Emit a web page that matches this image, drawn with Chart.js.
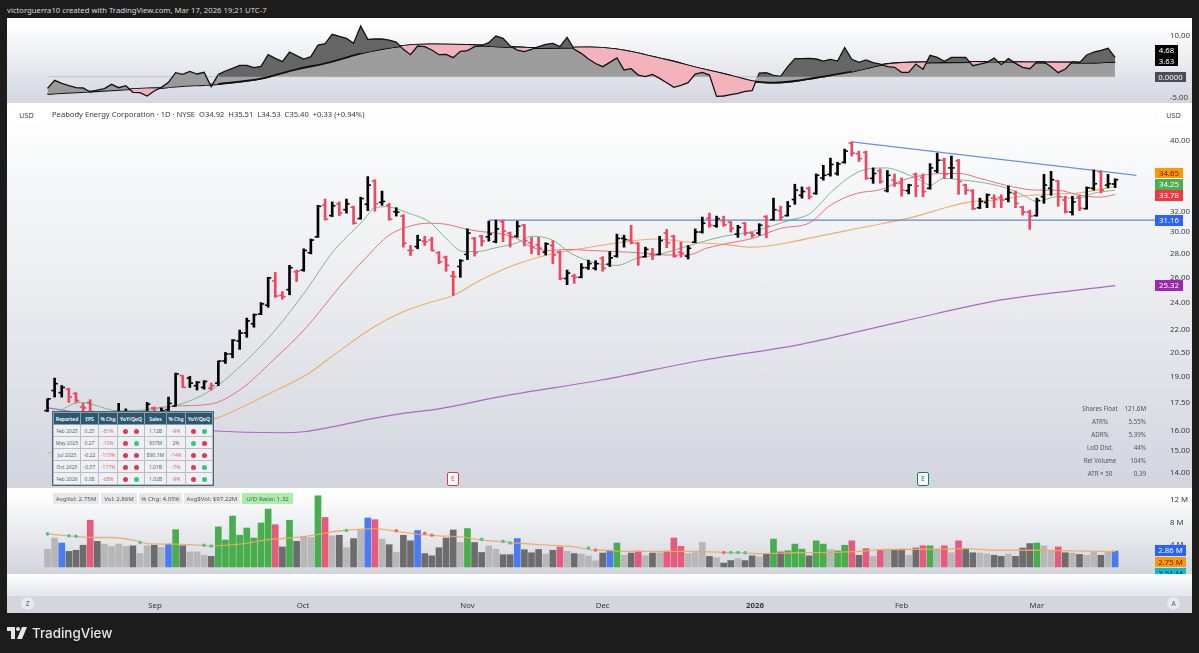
<!DOCTYPE html>
<html>
<head>
<meta charset="utf-8">
<title>BTU</title>
<script src="https://cdn.jsdelivr.net/npm/chart.js@4/dist/chart.umd.min.js"></script>
<style>
html, body { margin: 0; padding: 0; width: 1199px; height: 653px; overflow: hidden; background: #1c1c1c; }
body { position: relative; font-family: "Noto Sans", sans-serif; color: #333; }
.abs, canvas { position: absolute; }
.pane { position: absolute; left: 7px; width: 1185px; }
#byline { left: 7px; top: 5px; font-size: 7.7px; color: #d8d8d8; white-space: nowrap; }
#logoText { left: 32px; top: 625px; font: 500 13.4px Inter, sans-serif; color: #e6e6e6; }
.tag { position: absolute; left: 1155px; width: 28px; height: 10.5px; line-height: 10.5px; font-size: 7.8px; text-align: center; color: #fff; overflow: hidden; }
.box { position: absolute; background: #fff; border-radius: 2px; font-size: 7.2px; text-align: center; line-height: 16px; height: 16px; color: #444; }
#title { left: 52px; top: 109px; font-size: 7.6px; white-space: pre; color: #3c3c3c; }
.chip { position: absolute; top: 493px; height: 11px; line-height: 11px; font-size: 6.1px; text-align: center; background: #e8e8e8; color: #555; white-space: nowrap; }
.stat { position: absolute; font-size: 6.2px; color: #555; line-height: 9px; white-space: nowrap; }
.round { position: absolute; top: 597px; width: 13px; height: 13px; line-height: 13px; border-radius: 50%; background: #e9eaee; font-size: 6.5px; text-align: center; color: #555; }
.earn { position: absolute; top: 472px; width: 10px; height: 12px; line-height: 12px; background: #fff; border-radius: 2px; font-size: 7px; text-align: center; }
#earnings { position: absolute; left: 53px; top: 412px; width: 159px; height: 69px; border-collapse: collapse; table-layout: fixed; font-size: 5px; text-align: center; background: #eef0f3; color: #666; outline: 1.5px solid #4a6478; }
#earnings th { background: #2d566f; color: #fff; padding: 0; font-weight: 600; border: 0.5px solid #8aa0ae; height: 11px; }
#earnings td { padding: 0; border: 0.5px solid #b9bec5; height: 11px; }
#earnings td.neg { color: #d0706f; }
.dot { display: inline-block; width: 5px; height: 5px; border-radius: 50%; margin: 0 3px; vertical-align: middle; }
</style>
</head>
<body>
<div class="abs" id="byline">victorguerra10 created with TradingView.com, Mar 17, 2026 19:21 UTC-7</div>

<div class="pane" style="top:18px;height:85px;background:linear-gradient(#fff 8%,#d3d6df 100%)"></div>
<div class="pane" style="top:103px;height:385px;background:linear-gradient(#fff 0%,#eceef1 45%,#d2d5de 100%)"></div>
<div class="pane" style="top:488px;height:86px;background:linear-gradient(#fff 5%,#d2d5de 100%)"></div>
<div class="pane" style="top:574px;height:22px;background:linear-gradient(#fff,#e4e6eb)"></div>
<div class="pane" style="top:596px;height:17px;background:#d3d6de"></div>

<canvas id="indicatorChart" width="1184" height="85" style="left:8px;top:19px"></canvas>
<canvas id="priceChart" width="1184" height="384" style="left:8px;top:104px"></canvas>
<canvas id="volumeChart" width="1184" height="126" style="left:8px;top:488px"></canvas>

<div class="box" style="left:9px;top:107px;width:35px">USD</div>
<div class="box" style="left:1158px;top:107px;width:31px">USD</div>
<div class="abs" id="title">Peabody Energy Corporation · 1D · NYSE  O34.92  H35.51  L34.53  C35.40  +0.33 (+0.94%)</div>

<div id="tags"></div>
<div id="chips"></div>
<div id="stats"></div>

<div class="earn" style="left:447px;color:#d8394e;border:1px solid #d8394e">E</div>
<div class="earn" style="left:917px;color:#14805e;border:1px solid #14805e">E</div>

<div class="round" style="left:21px">Z</div>
<div class="round" style="left:1167px">A</div>

<table id="earnings"></table>

<svg class="abs" style="left:7px;top:627px" width="20" height="12" viewBox="0 0 20 12">
  <path d="M0 0H8V12H4V4H0Z M15 0H20L15 12H10Z" fill="#e6e6e6"/>
  <circle cx="11" cy="2" r="2" fill="#e6e6e6"/>
</svg>
<div class="abs" id="logoText">TradingView</div>

<script>
// --- price bars, oldest first ---
const opens = [
  17.05,18.17,18.05,18.25,18.0,17.25,17.5,16.6,16.5,16.4,
  16.6,16.7,17.0,16.75,16.7,17.2,16.85,17.1,17.3,19.05,
  18.9,18.45,18.35,18.3,18.6,19.95,20.4,21.25,21.8,22.45,
  23.15,23.8,25.7,24.55,25.0,26.45,26.6,28.1,29.55,32.65,
  31.6,32.8,32.2,32.45,31.3,32.75,35.25,32.95,32.65,32.0,
  31.55,28.3,28.65,29.15,29.25,28.1,27.7,26.1,26.9,27.95,
  29.4,29.6,29.55,29.1,31.0,29.9,29.6,30.65,29.0,28.8,
  28.15,28.75,28.15,25.9,26.1,26.0,26.8,26.75,27.6,27.1,
  27.8,29.4,29.25,28.95,27.75,28.0,27.95,29.9,29.6,28.15,
  27.8,29.05,30.0,31.35,30.6,31.1,30.95,29.8,30.85,29.9,
  29.9,31.5,31.2,32.1,31.6,33.25,33.7,34.45,33.9,35.6,
  36.0,36.1,37.4,39.75,38.45,38.6,35.55,36.4,34.2,35.35,
  35.0,34.2,36.0,35.65,34.45,36.4,37.65,36.75,37.6,34.8,
  34.2,32.4,32.95,33.4,33.45,33.3,33.9,32.45,31.95,31.6,
  33.55,34.45,35.25,33.2,31.95,33.5,32.3,34.45,36.3,34.8,
  34.92];
const highs = [
  17.7,18.9,18.46,18.3,18.05,17.45,17.65,16.8,16.7,16.6,
  17.45,17.15,17.05,16.95,17.5,17.25,17.2,17.8,19.2,19.05,
  19.0,18.7,18.75,18.6,19.95,20.5,21.35,22.0,22.85,23.15,
  24.0,26.0,26.4,24.85,27.0,26.6,28.45,29.35,32.65,33.3,
  33.0,33.0,33.3,32.55,33.5,35.75,35.4,34.15,32.85,32.4,
  31.7,28.75,29.7,29.6,29.5,28.2,27.8,26.5,27.5,30.3,
  29.5,29.7,31.05,31.15,31.15,30.0,31.05,30.75,29.5,29.5,
  29.0,29.2,28.25,26.6,26.25,27.15,27.45,27.4,27.75,28.2,
  29.8,29.7,30.65,29.0,28.6,28.5,29.6,30.25,29.7,29.05,
  28.75,30.3,31.45,31.85,31.55,31.55,31.0,30.65,30.9,30.0,
  30.8,31.6,33.4,32.55,33.05,34.9,34.6,34.6,36.05,37.05,
  37.9,37.4,39.0,39.9,38.75,38.75,36.75,36.65,36.45,36.05,
  35.6,34.9,36.15,36.05,37.25,38.5,37.9,38.15,37.75,34.9,
  34.3,33.4,33.85,33.75,33.75,34.7,34.15,32.55,32.15,33.4,
  36.0,36.35,35.3,33.6,33.6,33.7,34.6,36.5,36.4,36.0,
  35.51];
const lows = [
  17.0,17.8,17.8,17.5,17.5,16.9,16.8,16.3,16.3,16.2,
  16.5,16.6,16.6,16.6,16.6,16.6,16.7,17.05,17.3,18.35,
  18.35,18.2,18.25,18.2,18.45,19.8,20.15,20.7,21.5,22.2,
  23.1,23.65,24.4,24.25,24.6,25.65,26.5,28.0,29.5,31.15,
  31.5,31.6,31.85,30.75,31.25,32.1,32.05,32.65,31.15,31.55,
  28.6,27.85,28.45,28.75,28.25,27.15,26.5,24.55,26.0,27.5,
  27.8,28.7,29.15,29.0,29.1,28.6,29.5,28.7,28.0,27.9,
  27.9,27.15,25.8,25.4,25.5,25.95,26.65,26.6,26.5,26.9,
  27.7,28.6,28.9,27.0,27.7,27.5,27.9,28.55,27.7,27.7,
  27.55,29.0,29.9,30.45,30.45,30.55,30.0,29.5,29.7,29.5,
  29.7,29.45,31.15,31.15,31.55,32.75,33.4,33.3,33.8,35.35,
  35.8,35.9,37.3,38.15,37.5,35.45,35.0,35.0,34.05,34.65,
  33.6,33.85,33.55,33.55,34.35,36.2,35.55,35.55,33.8,33.8,
  32.2,32.3,32.4,32.4,32.4,33.0,32.4,31.65,30.25,31.55,
  32.85,33.7,32.55,31.85,31.65,32.1,32.25,34.25,33.95,34.5,
  34.53];
const closes = [
  17.7,18.57,18.35,17.8,17.6,17.2,17.0,16.5,16.4,16.5,
  16.9,16.95,16.85,16.9,17.4,16.9,17.05,17.45,19.15,18.35,
  18.6,18.65,18.7,18.45,19.95,20.4,21.3,21.8,22.65,23.1,
  23.9,25.95,24.5,24.45,26.8,26.5,28.3,29.25,32.55,31.25,
  32.6,31.85,32.8,30.85,33.35,34.8,32.8,33.05,31.25,31.95,
  28.95,28.3,29.25,29.1,28.3,27.3,27.0,26.05,27.4,29.9,
  28.1,29.15,29.8,30.3,30.1,29.5,30.55,29.2,28.6,28.5,
  28.9,27.9,25.9,26.35,26.0,26.8,27.15,27.15,26.75,27.65,
  29.4,29.3,29.0,27.7,28.4,27.95,29.2,29.0,27.8,28.05,
  28.5,30.0,30.85,30.65,31.3,30.7,30.35,30.45,29.9,29.7,
  30.65,30.55,32.2,31.45,32.55,34.25,34.1,33.55,35.9,35.9,
  37.15,37.2,38.75,38.5,37.85,35.55,36.1,35.2,35.9,35.0,
  34.25,34.8,34.7,34.1,36.75,37.65,36.0,36.75,35.2,34.25,
  32.3,33.05,33.75,33.3,33.2,34.0,32.85,31.95,31.55,33.15,
  34.8,35.4,33.55,32.0,33.0,32.35,34.5,34.95,34.25,34.95,
  35.40];
// U / D per bar as the chart coloured it
const barDirs = ('UUUDDDDDDU' + 'UUDUUDUUUD' + 'UUUDUUUUUU' + 'UUDDUDUUUD' + 'UDUDUUDUDU' +
  'DDUDDDDDUU' + 'DDUUDDUDDD' + 'UDDUDUUUDU' + 'UUDDUDUDDD' + 'UUUDUDDUDD' +
  'UDUDUUUDUU' + 'UUUDDDUDUD' + 'DUDDUUDUDD' + 'DUUDDUDDDU' + 'UUDDUDUUDU' + 'U').split('');

// moving averages, read at the bars listed next to them
const greenBars = [1,4.6,10,17.7,23,28,32,36.4,40,44.4,46,47.7,50.5,53.7,56,58.4,60.3,63,66,68,71.1,73.4,77,80,83,85.6,90.2,95,98.7,104.3,107.1,110.4,113.7,115.6,117.9,120.2,122.6,124,125.9,128.7,132,135.2,137.1,139,141.8,144.6,146.9,150];
const greenVals = [16.9,17.5,17.05,17.3,18.2,20,22,25,28.1,31.15,32.4,32.5,31.9,30.95,29.4,28.2,28.2,28.55,29,29.6,29.2,28.1,27.2,27,27.65,27.9,28.75,29.6,30,31.15,31.8,34.25,36.2,36.65,36.75,36.2,35.35,34.8,35.55,35.35,35,34.35,33.7,33.05,33.55,33.35,33.9,34.25];
const redBars = [5,13,17.7,22.8,27,31.7,36.4,41,44.8,48,51.4,53.7,56,58.4,60.8,63,65.6,68,70.3,73.4,76.2,80,83,86.6,90,92.6,96,99,103,107.1,110,113.7,117,120.2,123,125.9,128.2,131,135.7,139,141.8,145,147.9,150];
const redVals = [16.55,17.05,17.3,17.4,18.2,20,22.2,25.2,27.7,29.7,30.65,30.85,30.75,30.35,30.05,29.9,29.5,28.6,28.3,28.4,28.3,28.2,28.1,27.9,27.9,28.5,29,29.4,30.35,30.9,32.65,33.9,34.3,35.35,35.9,36.1,36.1,35.55,34.6,34.25,34.25,33.7,33.5,33.78];
const orangeBars = [0,10,23.3,31.7,36.4,41,45.8,49.5,53.7,57,60.8,65.5,70.2,73.4,77.2,81.8,85.5,90.2,95,99,104,107.6,114.6,121.6,126.4,129.6,133.5,136.8,140.6,145.3,150];
const orangeVals = [14.9,15.7,16.6,18.1,19.1,20.6,22.2,23.2,24,24.55,25.75,27,27.9,28.3,28.7,29.15,29.35,29.05,28.85,28.6,29,29.5,30.45,31.45,32.45,33,33.2,33.6,33.8,34,34.65];
const purpleBars = [0,5,12,23,33,36,40,46,50,55,64,78,92,106,120,134,150];
const purpleVals = [17.2,16.9,16.4,16,15.9,15.95,16.2,16.65,16.9,17.15,17.85,18.8,20,21.05,22.6,24.2,25.32];

// drawn lines: support and falling trendline
const supportBars = [62, 155.6];
const supportVals = [31.16, 31.16];
const trendBars = [113, 153];
const trendVals = [39.9, 35.9];

const priceTicks = [14, 15, 16, 17.5, 19, 20.5, 22, 24, 26, 28, 30, 32, 40];

// volume in millions and its colour class per bar
const volumes = [
  3.2,5.2,4.3,2.8,3.0,3.9,8.4,4.6,4.1,3.7,
  4.1,3.7,3.8,2.4,3.8,3.9,3.5,4.1,6.7,3.8,
  2.7,2.7,2.1,1.9,7.2,4.85,9.15,5.7,7.0,5.2,
  7.9,10.4,7.6,3.6,8.4,4.6,5.5,5.3,12.8,8.9,
  5.6,5.7,3.45,5.1,6.7,8.8,8.5,5.0,4.0,2.6,
  5.7,4.7,6.55,2.4,2.0,3.45,5.2,6.65,4.4,6.9,
  4.4,2.6,3.8,3.2,2.2,2.2,5.1,3.1,2.55,3.15,
  2.3,3.0,3.6,2.8,2.4,2.3,1.95,1.1,2.5,2.9,
  4.3,2.1,2.5,2.85,2.0,2.5,2.55,2.85,5.2,3.7,
  2.4,2.6,4.4,1.9,1.65,0.7,1.15,1.5,1.15,2.0,
  1.8,2.35,5.0,2.7,2.9,4.1,3.2,2.0,4.7,4.1,
  3.1,2.9,3.9,4.7,2.1,3.3,1.9,3.0,3.2,3.1,
  3.2,2.1,3.4,3.8,3.8,3.2,3.8,2.55,4.7,3.3,
  2.55,2.5,2.35,2.1,1.9,2.3,1.9,3.4,4.2,4.3,
  3.8,2.9,3.6,2.55,2.5,2.25,2.1,2.65,2.1,2.7,
  2.86];
const volumeKinds = ('llbdddpdll' + 'lldlldlbgd' + 'llldgggggg' + 'ggpdgdllgp' + 'ldldlbpldl' +
  'ddbdddddlg' + 'ddllddbddd' + 'ldpldllldb' + 'gldpldlppp' + 'llldlddldd' +
  'ldgdgggdgg' + 'lggpdplpld' + 'dldpglplpd' + 'dllddldddg' + 'llpdldlldl' + 'b').split('');
const avgVolBars = [0,3,6,9,12.5,14,18,23,27,31,36,39,42,46,49,52,55,58,61,65,69,74,77,78.6,81,86,91,95.6,100,105,110,115,117,125,129,133,139,144,150];
const avgVolVals = [5.94,5.6,5.3,5.3,4.7,4.2,4.1,3.8,4.1,4.9,5.45,6.1,6.6,6.9,6.4,5.9,5.6,5.4,4.85,4.4,4,3.6,3.0,3.0,2.8,2.8,2.8,2.6,2.4,2.55,2.6,2.9,3.1,3.2,3.3,3,3,2.9,2.75];
const tealDotBars = [0,3,4,13,22,23,42,61,64,65,76,96,97,98];
const tealDotVals = [5.94,5.6,5.5,4.4,3.9,3.75,6.55,4.95,4.6,4.3,3.4,2.6,2.6,2.55];
const redDotBars = [49,53,54,77,95];
const redDotVals = [6.5,6.05,5.7,3.03,2.6];
const volumeTicks = [4, 8, 12];

// oscillator pane
const fastVals = [
  -2.83,-0.89,-1.62,-2.18,-2.67,-2.75,-3.72,-3.24,-2.91,-1.86,
  -2.67,-2.18,-3.8,-3.88,-4.69,-3.48,-2.59,-1.38,0.97,0.57,
  1.29,0.65,1.05,-2.43,0.57,1.38,2.02,2.75,2.75,2.18,
  2.51,5.34,4.45,3.64,5.99,5.1,4.29,4.85,7.69,8.01,
  10.28,9.79,9.3,8.09,12.3,9.06,9.14,9.14,8.9,8.41,
  6.63,5.34,7.44,7.28,6.47,5.34,5.42,4.61,6.15,6.31,
  7.28,7.52,8.25,9.87,9.3,7.44,6.47,6.07,6.63,7.28,
  7.85,8.09,7.28,9.55,6.63,5.66,4.29,3.2,2.43,3.48,
  4.53,1.62,1.94,0.4,0,0.57,-0.4,-1.46,-2.59,-2.1,
  -1.46,0.65,1.05,0.4,-4.77,-4.69,-4.37,-4.05,-3.56,-3.4,
  0.89,0.97,0.32,0.08,2.43,4.37,4.37,4.45,4.29,3.8,
  4.21,3.8,7.04,4.21,3.48,4.05,3.4,3.07,2.43,2.27,
  1.05,1.05,3.07,1.78,5.18,4.69,3.72,4.69,4.69,4.69,
  2.67,3.07,3.48,4.53,2.91,4.37,3.24,2.27,1.94,3.56,
  3.56,2.43,0.97,1.86,3.64,3.4,5.26,5.99,6.39,6.88,
  4.68];
const slowBars = [0,4,9,14,16,19,22,24,30,35,39,44,49,54,59,64,69,76,80,84,87,92,96,99.5,102,105,110,113,117,121,130,138,146,150];
const slowVals = [-4.2,-3.8,-3.32,-2.83,-2.75,-2.27,-2.02,-1.78,-0.49,1.78,3.24,5.66,7.28,7.85,7.69,7.28,6.96,7.12,6.63,5.26,4.05,1.86,0.24,-1.21,-1.46,-1.05,0.32,1.21,2.83,3.4,3.56,3.48,3.4,3.63];
const zeroBars = [0, 150];
const zeroVals = [0, 0];
const indicatorTicks = [-5, 10];

// time axis
const monthBars = [15.1, 35.9, 59, 78, 99.4, 120, 139];
const monthNames = ['Sep', 'Oct', 'Nov', 'Dec', '2026', 'Feb', 'Mar'];

// earnings table
const tableHead = ['Reported', 'EPS', '% Chg', 'YoY/QoQ', 'Sales', '% Chg', 'YoY/QoQ'];
const tablePeriods = ['Feb 2025', 'May 2025', 'Jul 2025', 'Oct 2025', 'Feb 2026'];
const tableEps = ['0.25', '0.27', '-0.22', '-0.57', '0.08'];
const tableEpsChg = ['-81%', '-10%', '-115%', '-177%', '-68%'];
const tableEpsDots = ['rr', 'rg', 'rr', 'rr', 'rg'];
const tableSales = ['1.12B', '937M', '890.1M', '1.01B', '1.02B'];
const tableSalesChg = ['-9%', '2%', '-14%', '-7%', '-9%'];
const tableSalesDots = ['rg', 'gr', 'rr', 'rg', 'rg'];

const statNames = ['Shares Float', 'ATR%', 'ADR%', 'LoD Dist.', 'Rel Volume', 'ATR × 50'];
const statVals = ['121.6M', '5.55%', '5.39%', '44%', '104%', '0.39'];
const chipTexts = ['AvgVol: 2.75M', 'Vol: 2.86M', '% Chg: 4.05%', 'Avg$Vol: $97.22M', 'U/D Ratio: 1.32'];

const UP = '#000000', DOWN = '#ee4762';
const VOLUME_COLORS = { g: '#46ae4c', b: '#4b7bf2', p: '#e65b7b', l: '#b7b7b7', d: '#6c6c6c' };
const barX = closes.map((_, i) => i);
const FONT = '"Noto Sans", sans-serif';

function pairs(xs, ys) {
  return xs.map((x, i) => ({ x: x, y: ys[i] }));
}

function lineSet(xs, ys, color, width) {
  return {
    type: 'line', data: pairs(xs, ys), borderColor: color, borderWidth: width,
    pointRadius: 0, cubicInterpolationMode: 'monotone', fill: false
  };
}

function xAxis(display) {
  return {
    type: 'linear', min: -5.55, max: 155.6, offset: false, display: display,
    grid: { display: false }, border: { display: false }
  };
}

function yAxis(ticks, format) {
  return {
    position: 'right',
    grid: { display: false }, border: { display: false },
    afterBuildTicks: s => { s.ticks = ticks.map(v => ({ value: v })); },
    afterFit: s => { s.width = 37; s.paddingTop = 0; s.paddingBottom = 0; },
    ticks: { autoSkip: false, padding: 7, color: '#3a3a3a', font: { family: FONT, size: 7.8 }, callback: format }
  };
}

function baseOptions(scales) {
  return {
    responsive: false, animation: false,
    layout: { padding: 0, autoPadding: false }, events: [],
    plugins: { legend: { display: false }, tooltip: { enabled: false } },
    scales: scales
  };
}

// --- oscillator ---
const fastPoints = pairs(barX, fastVals);
const slowPoints = pairs(slowBars, slowVals);
const FAST_SPLIT = 24;
// the grey under the slow line only shows while the fast line is above zero
function slowBand(from, to) {
  const pts = slowPoints.filter(p => p.x >= from && p.x <= to);
  return { data: pts, borderColor: '#111', borderWidth: 1.8, pointRadius: 0,
    cubicInterpolationMode: 'monotone', fill: { value: 0, above: '#9d9d9d', below: '#a3a3a6' } };
}
new Chart(document.getElementById('indicatorChart'), {
  type: 'line',
  data: {
    datasets: [
      slowBand(24, 44),
      slowBand(99.5, 113),
      { data: fastPoints.slice(FAST_SPLIT), borderColor: '#111', borderWidth: 1.3, pointRadius: 0,
        fill: { target: 4, above: '#666666', below: '#f3b2bc' } },
      { data: fastPoints.slice(0, FAST_SPLIT + 1), borderColor: '#111', borderWidth: 1.3, pointRadius: 0,
        fill: { target: 4, above: '#9a9a9a', below: '#f3b2bc' } },
      { data: slowPoints, borderColor: '#111', borderWidth: 1.8, pointRadius: 0,
        cubicInterpolationMode: 'monotone', fill: false },
      slowBand(39, 96),
      slowBand(110, 150),
      lineSet(zeroBars, zeroVals, '#c4c6cc', 1)
    ]
  },
  options: baseOptions({
    x: xAxis(false),
    y: Object.assign(yAxis(indicatorTicks, v => v.toFixed(2)), { min: -6.63, max: 14 })
  })
});

// --- price ---
const barColors = barDirs.map(d => d === 'U' ? UP : DOWN);
new Chart(document.getElementById('priceChart'), {
  type: 'bar',
  data: {
    datasets: [
      { type: 'line', data: pairs(barX, opens), showLine: false, pointStyle: 'dash', pointRadius: 3.2,
        pointRotation: 180, pointBorderWidth: 1.6, pointBorderColor: barColors },
      { type: 'line', data: pairs(barX, closes), showLine: false, pointStyle: 'dash', pointRadius: 3.2,
        pointRotation: 0, pointBorderWidth: 1.6, pointBorderColor: barColors },
      { type: 'bar', data: barX.map(i => ({ x: i, y: [lows[i], highs[i]] })), backgroundColor: barColors,
        barThickness: 2 },
      Object.assign(lineSet(trendBars, trendVals, '#6f90e2', 1.2), { cubicInterpolationMode: 'default' }),
      Object.assign(lineSet(supportBars, supportVals, '#5b84e4', 1.2), { cubicInterpolationMode: 'default' }),
      lineSet(greenBars, greenVals, '#7fb68c', 1),
      lineSet(redBars, redVals, '#e9707f', 1),
      lineSet(orangeBars, orangeVals, '#f0ae66', 1.1),
      lineSet(purpleBars, purpleVals, '#ad68bf', 1.2)
    ]
  },
  options: baseOptions({
    x: xAxis(false),
    y: Object.assign(yAxis(priceTicks, v => v.toFixed(2)), { type: 'logarithmic', min: 13.35, max: 44.98 })
  })
});

// --- volume plus the time axis below it ---
const timeAxis = xAxis(true);
timeAxis.afterBuildTicks = s => { s.ticks = monthBars.map(v => ({ value: v })); };
timeAxis.afterFit = s => { s.height = 40; s.paddingLeft = 0; s.paddingRight = 0; };
timeAxis.ticks = {
  autoSkip: false, maxRotation: 0, padding: 19, color: '#3a3a3a',
  font: c => ({ family: FONT, size: 7.8, weight: c.tick && c.tick.value === 99.4 ? '700' : '400' }),
  callback: v => monthNames[monthBars.indexOf(v)]
};

new Chart(document.getElementById('volumeChart'), {
  type: 'bar',
  data: {
    datasets: [
      { type: 'line', data: pairs(tealDotBars, tealDotVals), showLine: false, pointRadius: 1.8,
        pointBackgroundColor: '#4fbf9f', pointBorderWidth: 0 },
      { type: 'line', data: pairs(redDotBars, redDotVals), showLine: false, pointRadius: 1.8,
        pointBackgroundColor: '#ef6a62', pointBorderWidth: 0 },
      lineSet(avgVolBars, avgVolVals, 'rgba(240,170,95,0.9)', 1.3),
      { type: 'bar', data: pairs(barX, volumes), barThickness: 6,
        backgroundColor: volumeKinds.map(k => VOLUME_COLORS[k]) }
    ]
  },
  options: baseOptions({
    x: timeAxis,
    y: Object.assign(yAxis(volumeTicks, v => v + ' M'), { min: -1.27, max: 14.2 })
  })
});

// --- text overlays ---
function addTag(top, text, bg, fg, width) {
  const el = document.createElement('div');
  el.className = 'tag';
  el.style.top = top + 'px';
  el.style.background = bg;
  el.style.color = fg || '#fff';
  if (width) el.style.width = width + 'px';
  el.textContent = text;
  document.getElementById('tags').appendChild(el);
  return el;
}
addTag(45, '4.68', '#050505', '#fff', 23);
addTag(55.5, '3.63', '#050505', '#fff', 23);
addTag(71.5, '0.0000', '#4a4d57', '#fff', 31);
addTag(167.5, '34.65', '#ff9800', '#4a2c00');
addTag(179, '34.25', '#4caf50');
addTag(190, '33.78', '#f23645');
addTag(215, '31.16', '#2962ff');
addTag(280, '25.32', '#9c27b0');
addTag(545, '2.86 M', '#2962ff', '#fff', 31);
addTag(556.5, '2.75 M', '#ff9800', '#4a2c00', 31);
const cutTag = addTag(568, '2.51 M', '#00bcd4', '#123', 31);
cutTag.style.height = '5.5px';

const chipLefts = [53, 101, 139, 184, 242];
const chipWidths = [46, 36, 43, 56, 51];
chipTexts.forEach((t, i) => {
  const el = document.createElement('div');
  el.className = 'chip';
  el.style.left = chipLefts[i] + 'px';
  el.style.width = chipWidths[i] + 'px';
  if (i === 4) { el.style.background = '#a9efa9'; }
  el.textContent = t;
  document.getElementById('chips').appendChild(el);
});

statNames.forEach((name, i) => {
  const top = 404 + i * 13;
  const a = document.createElement('div');
  a.className = 'stat';
  a.style.cssText = `left:1070px;width:60px;text-align:center;top:${top}px`;
  a.textContent = name;
  const b = document.createElement('div');
  b.className = 'stat';
  b.style.cssText = `left:1115px;width:31px;text-align:right;top:${top}px`;
  b.textContent = statVals[i];
  document.getElementById('stats').append(a, b);
});

function dotCell(code) {
  return code.split('').map(c => `<span class="dot" style="background:${c === 'r' ? '#dc3a56' : '#3cc47a'}"></span>`).join('');
}
const colWidths = [27, 18, 19, 27, 22, 19, 27];
let tableHtml = '<colgroup>' + colWidths.map(w => `<col style="width:${w}px">`).join('') + '</colgroup>';
tableHtml += '<tr>' + tableHead.map(h => `<th>${h}</th>`).join('') + '</tr>';
tablePeriods.forEach((p, i) => {
  tableHtml += `<tr><td>${p}</td><td>${tableEps[i]}</td><td class="neg">${tableEpsChg[i]}</td><td>${dotCell(tableEpsDots[i])}</td>` +
    `<td>${tableSales[i]}</td><td class="${tableSalesChg[i][0] === '-' ? 'neg' : ''}">${tableSalesChg[i]}</td><td>${dotCell(tableSalesDots[i])}</td></tr>`;
});
document.getElementById('earnings').innerHTML = tableHtml;
</script>
</body>
</html>
